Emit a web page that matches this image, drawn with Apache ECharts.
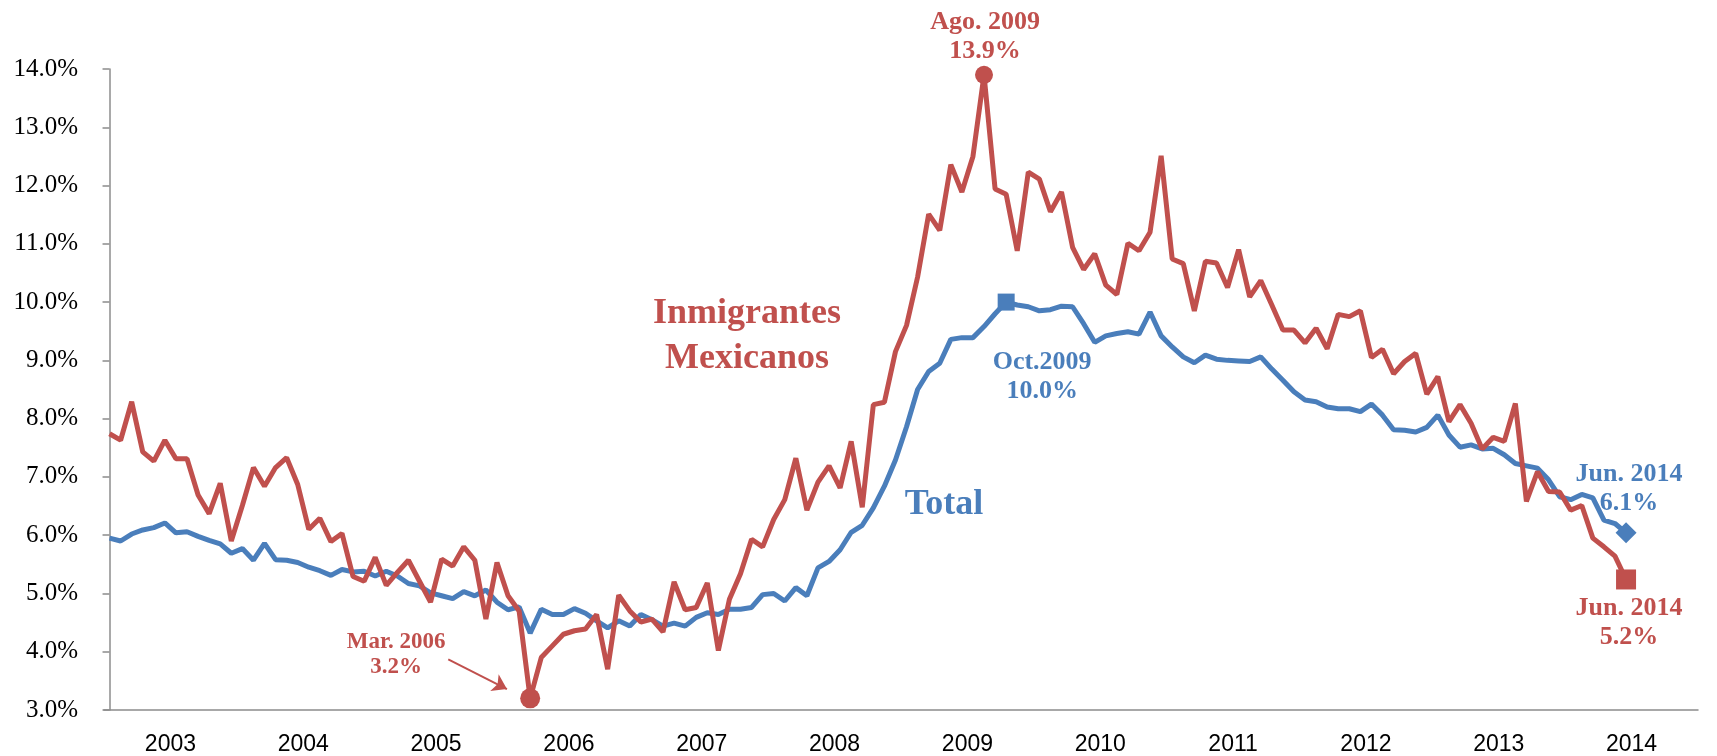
<!DOCTYPE html>
<html>
<head>
<meta charset="utf-8">
<script src="https://cdn.jsdelivr.net/npm/echarts@6/dist/echarts.min.js"></script>
<style>
html, body { margin: 0; padding: 0; background: #fff; }
#chart { width: 1717px; height: 756px; }
</style>
</head>
<body>
<div id="chart"></div>
<script>
// years on the axis (each one is 12 monthly slots)
var years = ['2003', '2004', '2005', '2006', '2007', '2008', '2009', '2010', '2011', '2012', '2013', '2014']

// monthly unemployment rate, Jan 2003 - Jun 2014
var mexicanos = [
  7.74, 7.63, 8.29, 7.43, 7.27, 7.63, 7.31, 7.31, 6.69, 6.37, 6.89, 5.90,
  6.51, 7.16, 6.84, 7.16, 7.33, 6.87, 6.10, 6.29, 5.89, 6.03, 5.29, 5.21,
  5.62, 5.14, 5.36, 5.57, 5.21, 4.85, 5.59, 5.47, 5.80, 5.57, 4.56, 5.53,
  4.96, 4.70, 3.20, 3.90, 4.10, 4.30, 4.36, 4.39, 4.64, 3.70, 4.97, 4.70,
  4.51, 4.56, 4.34, 5.20, 4.72, 4.76, 5.18, 4.02, 4.90, 5.34, 5.93, 5.80,
  6.27, 6.61, 7.32, 6.43, 6.91, 7.19, 6.81, 7.61, 6.48, 8.24, 8.28, 9.15,
  9.60, 10.43, 11.51, 11.23, 12.36, 11.89, 12.50, 13.90, 11.94, 11.85, 10.88, 12.23,
  12.11, 11.55, 11.89, 10.94, 10.56, 10.83, 10.29, 10.13, 11.01, 10.88, 11.20, 12.51,
  10.74, 10.66, 9.85, 10.70, 10.67, 10.25, 10.90, 10.09, 10.37, 9.95, 9.52, 9.52,
  9.30, 9.55, 9.20, 9.79, 9.75, 9.85, 9.05, 9.19, 8.77, 8.98, 9.12, 8.42,
  8.72, 7.95, 8.24, 7.92, 7.48, 7.68, 7.61, 8.26, 6.58, 7.09, 6.75, 6.74,
  6.43, 6.51, 5.95, 5.80, 5.64, 5.24
]
var total = [
  5.95, 5.90, 6.02, 6.09, 6.13, 6.21, 6.04, 6.06, 5.98, 5.91, 5.85, 5.69,
  5.77, 5.57, 5.86, 5.58, 5.57, 5.53, 5.45, 5.39, 5.31, 5.41, 5.37, 5.38,
  5.30, 5.38, 5.30, 5.17, 5.13, 5.01, 4.96, 4.91, 5.03, 4.96, 5.06, 4.85,
  4.72, 4.77, 4.32, 4.73, 4.64, 4.64, 4.74, 4.66, 4.53, 4.41, 4.53, 4.44,
  4.64, 4.55, 4.44, 4.49, 4.44, 4.59, 4.67, 4.64, 4.73, 4.73, 4.76, 4.98,
  5.00, 4.87, 5.10, 4.96, 5.44, 5.55, 5.75, 6.05, 6.17, 6.47, 6.84, 7.29,
  7.86, 8.50, 8.81, 8.95, 9.36, 9.39, 9.39, 9.58, 9.80, 10.00, 9.95, 9.92,
  9.85, 9.87, 9.93, 9.92, 9.63, 9.31, 9.42, 9.46, 9.49, 9.45, 9.83, 9.42,
  9.23, 9.06, 8.96, 9.09, 9.02, 9.00, 8.99, 8.98, 9.06, 8.85, 8.66, 8.46,
  8.32, 8.29, 8.20, 8.17, 8.17, 8.12, 8.25, 8.06, 7.81, 7.80, 7.77, 7.85,
  8.06, 7.72, 7.51, 7.55, 7.48, 7.49, 7.38, 7.23, 7.19, 7.15, 6.95, 6.66,
  6.61, 6.70, 6.64, 6.26, 6.20, 6.04
]

var RED = '#C0504D'
var BLUE = '#4A7EBB'
var AXIS = '#8c8c8c'

// highlighted months (index from Jan 2003)
var iMar06 = 38
var iAgo09 = 79
var iOct09 = 81
var iJun14 = total.length - 1

function toPoints(arr) {
  return arr.map(function (v, i) { return [i, v] })
}

function note(text, color, size, lh, offset) {
  return {
    show: true,
    position: 'inside',
    offset: offset,
    formatter: text,
    color: color,
    fontFamily: 'Liberation Serif',
    fontWeight: 'bold',
    fontSize: size,
    lineHeight: lh
  }
}

var myChart = echarts.init(document.getElementById('chart'))

var option = {
  animation: false,
  grid: { left: 104, right: 19, top: 69, bottom: 42 },
  xAxis: [
    {
      type: 'value',
      min: -0.5,
      max: years.length * 12 - 0.5,
      show: false
    },
    {
      type: 'category',
      data: years,
      position: 'bottom',
      boundaryGap: true,
      axisLine: { lineStyle: { color: AXIS, width: 1.5 } },
      axisTick: { interval: 0, length: 8, lineStyle: { color: AXIS, width: 1.5 } },
      axisLabel: { color: '#000', fontFamily: 'Liberation Sans', fontSize: 23, margin: 23 },
      splitLine: { show: false }
    }
  ],
  yAxis: {
    type: 'value',
    min: 3,
    max: 14,
    interval: 1,
    axisLine: { show: true, lineStyle: { color: AXIS, width: 1.5 } },
    axisTick: { show: true, length: 7, lineStyle: { color: AXIS, width: 1.5 } },
    axisLabel: {
      color: '#000',
      fontFamily: 'Liberation Serif',
      fontSize: 25,
      margin: 26,
      formatter: function (v) { return v.toFixed(1) + '%' }
    },
    splitLine: { show: false }
  },
  series: [
    {
      name: 'Total',
      type: 'line',
      xAxisIndex: 0,
      data: toPoints(total),
      symbol: 'none',
      lineStyle: { color: BLUE, width: 5 },
      markPoint: {
        silent: true,
        data: [
          {
            coord: [iOct09, total[iOct09]],
            symbol: 'rect',
            symbolSize: 17,
            itemStyle: { color: BLUE },
            label: note('Oct.2009\n10.0%', BLUE, 26, 29, [36, 75])
          },
          {
            coord: [iJun14, total[iJun14]],
            symbol: 'diamond',
            symbolSize: 21,
            itemStyle: { color: BLUE },
            label: note('Jun. 2014\n6.1%', BLUE, 26, 29, [3, -44])
          }
        ]
      }
    },
    {
      name: 'Inmigrantes Mexicanos',
      type: 'line',
      xAxisIndex: 0,
      data: toPoints(mexicanos),
      symbol: 'none',
      lineStyle: { color: RED, width: 5 },
      markPoint: {
        silent: true,
        data: [
          {
            coord: [iMar06, mexicanos[iMar06]],
            symbol: 'circle',
            symbolSize: 20,
            itemStyle: { color: RED },
            label: note('Mar. 2006\n3.2%', RED, 23, 25, [-134, -44])
          },
          {
            coord: [iAgo09, mexicanos[iAgo09]],
            symbol: 'circle',
            symbolSize: 18,
            itemStyle: { color: RED },
            label: note('Ago. 2009\n13.9%', RED, 26, 29, [1, -38])
          },
          {
            coord: [iJun14, mexicanos[iJun14]],
            symbol: 'rect',
            symbolSize: 20,
            itemStyle: { color: RED },
            label: note('Jun. 2014\n5.2%', RED, 26, 29, [3, 43])
          }
        ]
      },
      // arrow pointing at the Mar. 2006 low
      markLine: {
        silent: true,
        symbol: ['none', 'arrow'],
        symbolSize: 14,
        label: { show: false },
        lineStyle: { color: RED, width: 2, type: 'solid' },
        data: [
          [
            { coord: [iMar06 - 7.4, mexicanos[iMar06] + 0.67] },
            { coord: [iMar06 - 2.1, mexicanos[iMar06] + 0.16] }
          ]
        ]
      }
    }
  ],
  graphic: [
    {
      type: 'text',
      x: 747,
      y: 336,
      style: {
        text: 'Inmigrantes\nMexicanos',
        fill: RED,
        font: 'bold 36px "Liberation Serif"',
        align: 'center',
        verticalAlign: 'middle',
        textAlign: 'center',
        textVerticalAlign: 'middle',
        lineHeight: 45
      }
    },
    {
      type: 'text',
      x: 944,
      y: 505,
      style: {
        text: 'Total',
        fill: BLUE,
        font: 'bold 36px "Liberation Serif"',
        align: 'center',
        verticalAlign: 'middle',
        textAlign: 'center',
        textVerticalAlign: 'middle'
      }
    }
  ]
}

myChart.setOption(option)
</script>
</body>
</html>
